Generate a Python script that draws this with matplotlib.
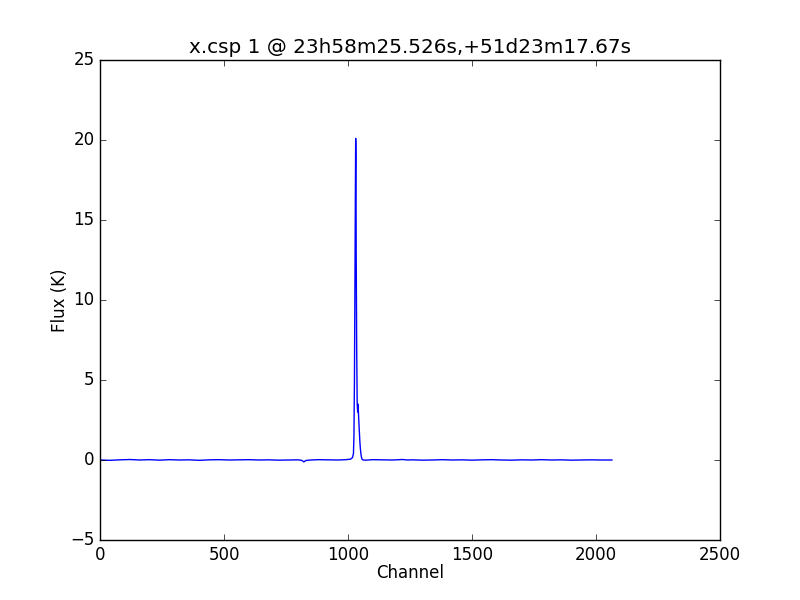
import matplotlib
matplotlib.use("Agg")
import matplotlib.pyplot as plt

plt.style.use("classic")

# baseline (channel, flux), plus the line around the peak
channel = [0, 40, 80, 120, 160, 200, 240, 280, 320, 360, 400, 440, 480, 520,
           560, 600, 640, 680, 720, 760, 800, 815, 822, 830, 850, 880, 920,
           960, 990, 1010, 1018, 1022, 1024, 1026, 1028, 1030, 1031, 1032,
           1033, 1035, 1037, 1039, 1040, 1041, 1042, 1044, 1046, 1048, 1050,
           1052, 1054, 1056, 1058, 1062, 1070, 1100, 1140, 1180, 1220, 1240,
           1260, 1300, 1340, 1380, 1420, 1460, 1500, 1540, 1580, 1620, 1660,
           1700, 1740, 1780, 1820, 1860, 1900, 1940, 1980, 2020, 2064]
flux = [0.0, -0.02, 0.01, 0.03, 0.0, 0.02, -0.01, 0.02, 0.0, 0.01, -0.02,
        0.01, 0.02, 0.0, 0.01, 0.02, 0.0, 0.01, -0.01, 0.0, 0.01, -0.03,
        -0.12, -0.03, 0.0, 0.02, 0.01, 0.0, 0.02, 0.05, 0.15, 0.4, 1.5, 5.0,
        11.0, 17.5, 20.1, 19.0, 13.0, 7.0, 3.5, 3.0, 3.5, 3.4, 3.0, 2.3, 1.7,
        1.1, 0.7, 0.4, 0.2, 0.08, 0.02, 0.0, -0.01, 0.02, 0.01, 0.0, 0.03,
        0.0, 0.01, -0.01, 0.0, 0.02, 0.0, 0.01, -0.01, 0.01, 0.02, 0.0,
        -0.01, 0.01, 0.0, 0.02, 0.0, 0.01, -0.01, 0.0, 0.01, 0.0, 0.0]

fig = plt.figure(figsize=(8, 6), dpi=100, facecolor="white")
ax = fig.add_axes([0.125, 0.1, 0.775, 0.8])
ax.plot(channel, flux, color="b", linewidth=1.0)
ax.set_xlim(0, 2500)
ax.set_ylim(-5, 25)
ax.set_xlabel("Channel", labelpad=0)
ax.set_ylabel("Flux (K)", labelpad=1)
ax.set_title("x.csp 1 @ 23h58m25.526s,+51d23m17.67s")

fig.savefig("out.png", dpi=100, facecolor="white")
